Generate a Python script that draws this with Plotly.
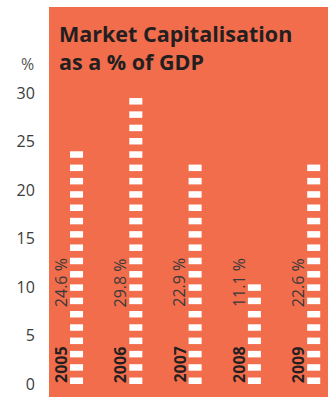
import numpy as np
import plotly.graph_objects as go

years = ["2005", "2006", "2007", "2008", "2009"]
values = [24.6, 29.8, 22.9, 11.1, 22.6]
value_labels = ["24.6 %", "29.8 %", "22.9 %", "11.1 %", "22.6 %"]
y_ticks = [0, 5, 10, 15, 20, 25, 30]
title_text = "Market Capitalisation<br>as a % of GDP"

ORANGE = "#F26D4C"
DARK = "#231F20"
DASH_PERIOD = 1.372   # data units between dash starts
DASH_HEIGHT = 0.67    # data units

fig = go.Figure()

xs, bases, heights = [], [], []
for i, v in enumerate(values):
    k = np.arange(0, 40)
    keep = k * DASH_PERIOD + DASH_HEIGHT / 2 <= v
    for b in k[keep] * DASH_PERIOD:
        xs.append(i)
        bases.append(b)
        heights.append(DASH_HEIGHT)

fig.add_trace(go.Bar(x=xs, y=heights, base=bases, width=0.22,
                     marker=dict(color="white", line=dict(width=0)),
                     hoverinfo="skip", showlegend=False))

for i, (yr, lab) in enumerate(zip(years, value_labels)):
    fig.add_annotation(x=i, y=0, xref="x", yref="y", text="<b>" + yr + "</b>",
                       textangle=-90, showarrow=False, xanchor="center", yanchor="bottom",
                       xshift=-16, yshift=-1,
                       font=dict(family="Open Sans", size=16, color=DARK))
    fig.add_annotation(x=i, y=10.45, xref="x", yref="y", text=lab,
                       textangle=-90, showarrow=False, xanchor="center", yanchor="middle",
                       xshift=-16,
                       font=dict(family="Open Sans", size=16, color="#3a3a3a"))

fig.add_annotation(text="<b>" + title_text + "</b>", xref="paper", yref="paper",
                   x=(57 - 49) / 279, y=1 - (17 - 7) / 390, xanchor="left", yanchor="top",
                   align="left", showarrow=False,
                   font=dict(family="Open Sans", size=21.5, color=DARK))

fig.add_annotation(text="%", xref="paper", yref="y", x=0, y=33.0, xanchor="right",
                   xshift=-13, showarrow=False,
                   font=dict(family="Open Sans", size=16, color="#555555"))

fig.update_layout(
    width=328, height=397,
    margin=dict(l=49, r=0, t=7, b=0, autoexpand=False),
    paper_bgcolor="white", plot_bgcolor=ORANGE,
    barmode="overlay", showlegend=False,
    xaxis=dict(range=[-0.464, 4.241], showticklabels=False, showgrid=False,
               zeroline=False, ticks="", automargin=False),
    yaxis=dict(range=[-1.34, 38.87], tickvals=y_ticks, showgrid=False, zeroline=False,
               ticks="outside", ticklen=10, tickcolor="rgba(0,0,0,0)", automargin=False,
               tickfont=dict(family="Open Sans", size=16, color="#3c3c3c")),
)

fig.write_html("out.html", config={"displayModeBar": False, "staticPlot": True},
               post_script="document.body.style.margin='0';document.body.style.overflow='hidden';")
